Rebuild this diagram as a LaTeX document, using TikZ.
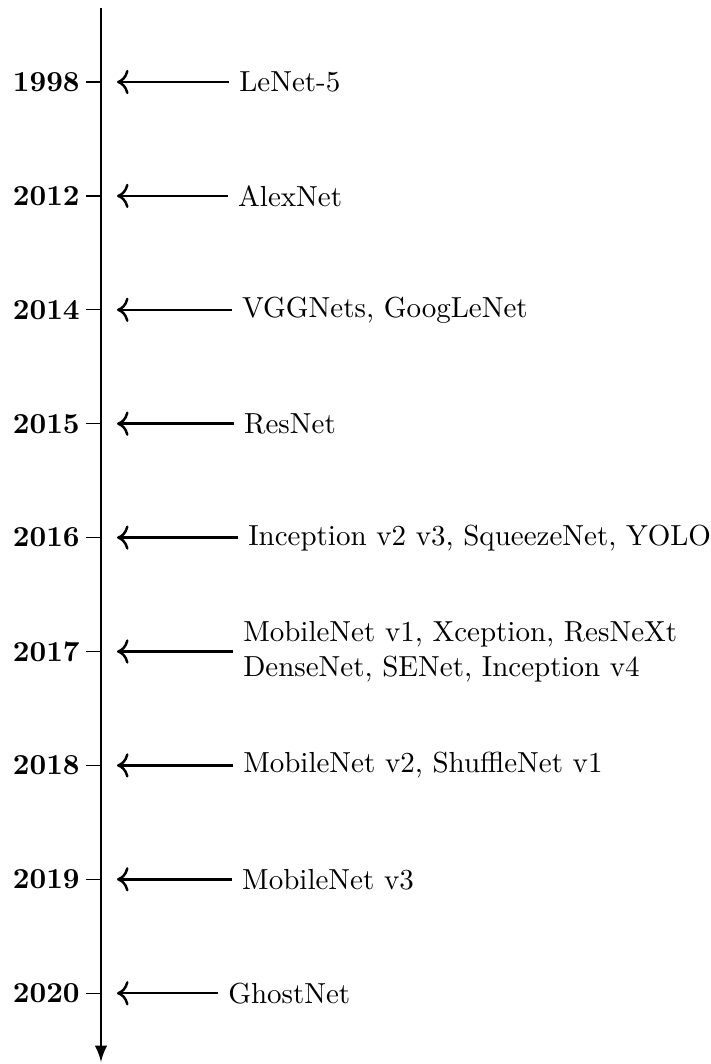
\documentclass[tikz,border=0pt]{standalone}
\usetikzlibrary{arrows,arrows.meta}
\begin{document}
\begin{tikzpicture}[x=0.34483pt, y=-0.34483pt,
  axisline/.style={line width=0.95pt},
  yeartick/.style={line width=0.45pt},
  pointer/.style={line width=0.85pt, -{To[scale=1.15]}},
  yearlabel/.style={anchor=east, inner sep=2pt, font=\bfseries},
  modellabel/.style={anchor=west, align=left}]
  \useasboundingbox (0,0) rectangle (710,1064);
  % time axis
  \coordinate (top) at (101,8);
  \coordinate (bottom) at (101,1062);
  \draw[axisline, -latex] (top) -- (bottom);
  % one row per year: year, label start, model names
  \foreach \i/\yr/\lx/\txt in {
      0/1998/229/{LeNet-5},
      1/2012/228/{AlexNet},
      2/2014/232/{VGGNets, GoogLeNet},
      3/2015/234/{ResNet},
      4/2016/238/{Inception v2 v3, SqueezeNet, YOLO},
      5/2017/233/{MobileNet v1, Xception, ResNeXt\\DenseNet, SENet, Inception v4},
      6/2018/233/{MobileNet v2, ShuffleNet v1},
      7/2019/232/{MobileNet v3},
      8/2020/218/{GhostNet}} {
    \pgfmathsetmacro{\yy}{82+113.9*\i}
    \coordinate (t\i) at (86,\yy);
    \coordinate (a\i) at (101,\yy);
    \coordinate (h\i) at (117,\yy);
    \draw[yeartick] (t\i) -- (a\i);
    \node[yearlabel] (y\i) at (t\i) {\yr};
    \node[modellabel] (m\i) at (\lx,\yy) {\txt};
    \draw[pointer] (m\i.west) -- (h\i);
  }
\end{tikzpicture}
\end{document}
